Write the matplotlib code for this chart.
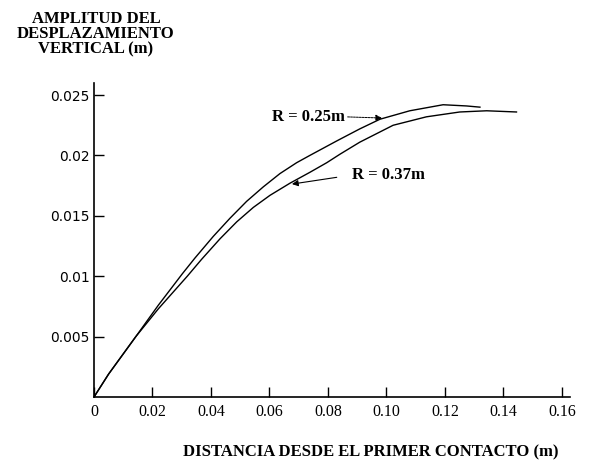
import matplotlib
matplotlib.use("Agg")
import matplotlib.pyplot as plt

# Data
x_r025 = [0, 0.005, 0.0143, 0.022, 0.0302, 0.0345, 0.0408, 0.0465, 0.0522, 0.0579,
          0.0636, 0.0693, 0.0738, 0.083, 0.0909, 0.0978, 0.108, 0.1194, 0.1274, 0.132]
y_r025 = [0, 0.0019, 0.0050, 0.0076, 0.0102, 0.0115, 0.0133, 0.0148, 0.0162, 0.0174,
          0.0185, 0.0194, 0.0200, 0.0212, 0.0222, 0.0230, 0.0237, 0.0242, 0.0241, 0.0240]

x_r037 = [0, 0.005, 0.0143, 0.022, 0.0319, 0.0368, 0.0431, 0.0488, 0.0545, 0.0602,
          0.067, 0.0738, 0.0796, 0.0841, 0.0909, 0.1023, 0.1137, 0.1251, 0.1343, 0.1445]
y_r037 = [0, 0.0019, 0.0050, 0.0073, 0.0100, 0.0114, 0.0131, 0.0145, 0.0157, 0.0167,
          0.0177, 0.0186, 0.0194, 0.0201, 0.0211, 0.0225, 0.0232, 0.0236, 0.0237, 0.0236]

xticks = [0, 0.02, 0.04, 0.06, 0.08, 0.10, 0.12, 0.14, 0.16]
xtick_labels = ["0", "0.02", "0.04", "0.06", "0.08", "0.10", "0.12", "0.14", "0.16"]
yticks = [0.005, 0.01, 0.015, 0.02, 0.025]
ytick_labels = ["0.005", "0.01", "0.015", "0.02", "0.025"]

title_lines = ["AMPLITUD DEL", "DESPLAZAMIENTO", "VERTICAL (m)"]
xlabel = "DISTANCIA DESDE EL PRIMER CONTACTO (m)"

W, H = 607, 462
fig = plt.figure(figsize=(W / 100, H / 100), dpi=100)
ax = fig.add_axes([94 / W, 1 - 397 / H, (570 - 94) / W, (397 - 83) / H])

ax.plot(x_r025, y_r025, color="black", lw=1.0, solid_joinstyle="round")
ax.plot(x_r037, y_r037, color="black", lw=1.0, solid_joinstyle="round")

ax.set_xlim(0, 0.1628)
ax.set_ylim(0, 0.026)

for s in ["top", "right"]:
    ax.spines[s].set_visible(False)
for s in ["left", "bottom"]:
    ax.spines[s].set_linewidth(1.2)

ax.set_xticks(xticks)
ax.set_xticklabels(xtick_labels, family="Liberation Serif", fontsize=11.5)
ax.set_yticks(yticks)
ax.set_yticklabels(ytick_labels, family="DejaVu Sans", fontsize=10)
ax.tick_params(axis="both", direction="in", length=7, width=1.0)
ax.tick_params(axis="x", pad=5)
ax.tick_params(axis="y", pad=3)

bold_serif = dict(family="Liberation Serif", fontweight="bold", fontsize=12)

ax.annotate("R = 0.25m", xy=(0.0985, 0.0231), xytext=(0.0858, 0.0232),
            ha="right", va="center", **bold_serif,
            arrowprops=dict(arrowstyle="-|>", color="black", lw=0.7,
                            linestyle=(0, (2, 1)), relpos=(1, 0.5),
                            shrinkA=0, shrinkB=0, mutation_scale=9))
ax.annotate("R = 0.37m", xy=(0.0677, 0.01763), xytext=(0.0882, 0.01838),
            ha="left", va="center", **bold_serif,
            arrowprops=dict(arrowstyle="-|>", color="black", lw=0.8,
                            relpos=(0, 0.5), shrinkA=9, shrinkB=0,
                            mutation_scale=9))

for i, line in enumerate(title_lines):
    fig.text(96 / W, 1 - (19 + 15 * i) / H, line, ha="center", va="center", **bold_serif)

fig.text(371 / W, 1 - 452 / H, xlabel, ha="center", va="center", **bold_serif)

fig.savefig("out.png", dpi=100)
